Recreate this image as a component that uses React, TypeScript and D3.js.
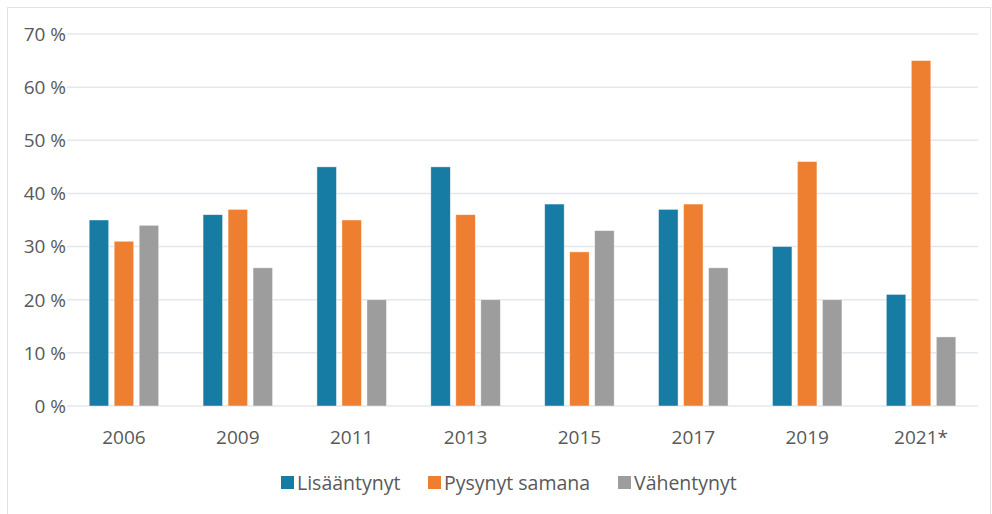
import React from "react";
import * as d3 from "d3";

const categories = ["2006", "2009", "2011", "2013", "2015", "2017", "2019", "2021*"];
const seriesNames = ["Lisääntynyt", "Pysynyt samana", "Vähentynyt"];
const lisaantynyt = [35, 36, 45, 45, 38, 37, 30, 21];
const pysynyt = [31, 37, 35, 36, 29, 38, 46, 65];
const vahentynyt = [34, 26, 20, 20, 33, 26, 20, 13];
const yTicks = [0, 10, 20, 30, 40, 50, 60, 70];
const colors = ["#177ca4", "#ee7f31", "#9d9d9d"];

const W = 992, H = 514;
const FONT = "'Open Sans', sans-serif";

export default function App() {
  const series = [lisaantynyt, pysynyt, vahentynyt];
  const x = d3.scaleBand().domain(categories).range([67, 978]).paddingInner(0).paddingOuter(0);
  const y = d3.scaleLinear().domain([0, 70]).range([406, 34]);
  const barW = 19.5;
  const step = 25;
  return (
    <svg width={W} height={H} style={{ position: "absolute", left: 0, top: 0, background: "#fff" }}>
      <rect x={7.5} y={7.5} width={983} height={510} fill="#fff" stroke="#dde3e8" strokeWidth={1} />
      {yTicks.map((t) => (
        <g key={t}>
          <line x1={67} x2={978} y1={y(t)} y2={y(t)} stroke="#e3e8ed" strokeWidth={1.5} />
          <text x={66} y={y(t)} dy="0.36em" textAnchor="end" fontFamily={FONT} fontSize={19} fill="#595959">
            {`${t} %`}
          </text>
        </g>
      ))}
      {categories.map((c, i) => {
        const cx = (x(c) as number) + x.bandwidth() / 2;
        return (
          <g key={c}>
            {series.map((s, k) => (
              <rect
                key={k}
                x={cx + (k - 1) * step - barW / 2}
                y={y(s[i])}
                width={barW}
                height={y(0) - y(s[i])}
                fill={colors[k]}
                stroke="#fff"
                strokeOpacity={0.6}
                strokeWidth={0.7}
              />
            ))}
            <text x={cx} y={444} textAnchor="middle" fontFamily={FONT} fontSize={19} fill="#595959">
              {c}
            </text>
          </g>
        );
      })}
      {seriesNames.map((n, k) => {
        const lx = [281, 428, 618][k];
        return (
          <g key={n}>
            <rect x={lx} y={476} width={13} height={13} fill={colors[k]} />
            <text x={lx + 16} y={490} fontFamily={FONT} fontSize={19.5} fill="#595959">
              {n}
            </text>
          </g>
        );
      })}
    </svg>
  );
}
